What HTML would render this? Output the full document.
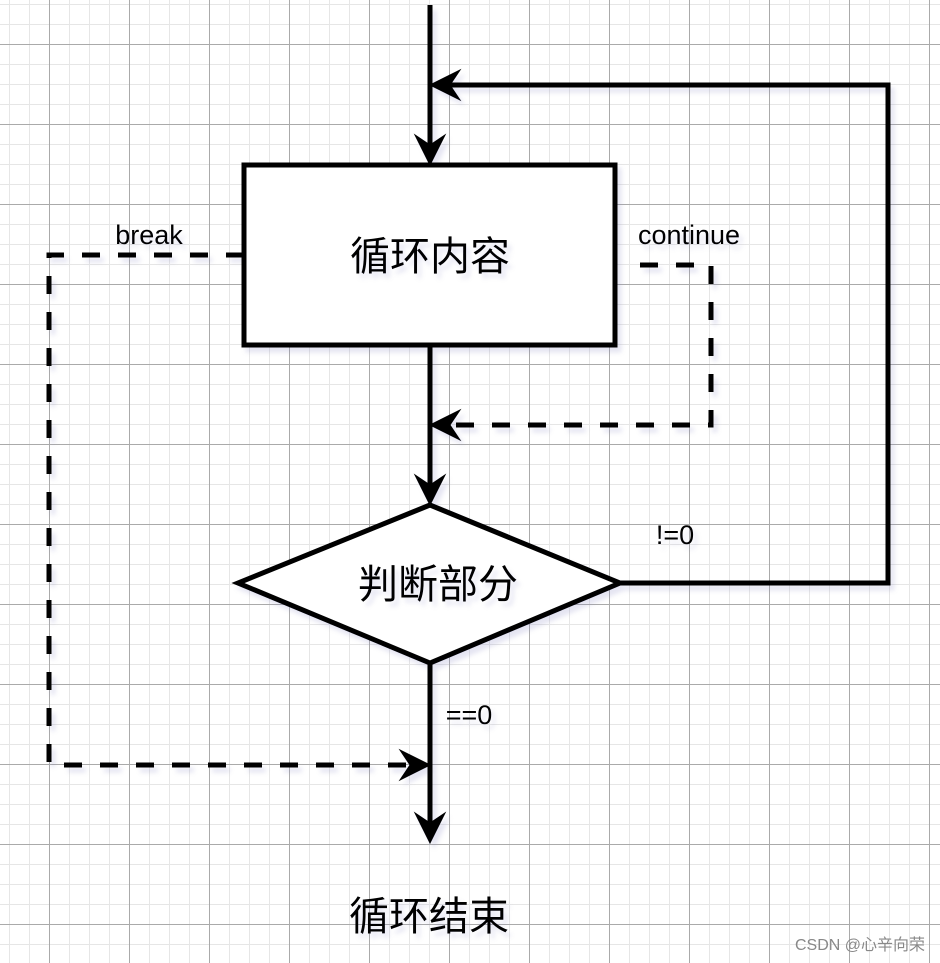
<!DOCTYPE html>
<html><head><meta charset="utf-8"><style>
html,body{margin:0;padding:0;background:#fff;}
svg{display:block;}
text{font-family:"Liberation Sans","Noto Sans CJK SC",sans-serif;fill:#000;}
</style></head><body>
<svg width="940" height="963" viewBox="0 0 940 963" xmlns="http://www.w3.org/2000/svg">
<defs>
<pattern id="minor" width="20" height="20" patternUnits="userSpaceOnUse" x="9" y="4">
<path d="M0 0H20M0 0V20" stroke="#e6e6e6" stroke-width="2" fill="none"/>
</pattern>
<pattern id="major" width="80" height="80" patternUnits="userSpaceOnUse" x="49" y="44">
<path d="M0 0.5H80M0.5 0V80" stroke="#aaaaaa" stroke-width="1" fill="none"/>
</pattern>
<filter id="sh" x="-10%" y="-10%" width="130%" height="130%">
<feGaussianBlur in="SourceAlpha" stdDeviation="2.5"/>
<feOffset dx="4" dy="5"/>
<feComponentTransfer><feFuncA type="linear" slope="0.2"/></feComponentTransfer>
<feColorMatrix type="matrix" values="0 0 0 0 0.2 0 0 0 0 0.2 0 0 0 0 0.5 0 0 0 1 0"/>
<feMerge><feMergeNode/><feMergeNode in="SourceGraphic"/></feMerge>
</filter>
</defs>
<rect width="940" height="963" fill="#fff"/>
<rect width="940" height="963" fill="url(#minor)"/>
<rect width="940" height="963" fill="url(#major)"/>
<g filter="url(#sh)" stroke="#000" stroke-width="5" fill="none">
<path d="M430 5V150"/>
<path d="M430 165L415 135L430 145L445 135Z" fill="#000" stroke-width="1"/>
<rect x="244" y="165" width="371" height="180" fill="#fff"/>
<path d="M430 345V490"/>
<path d="M430 505L415 475L430 485L445 475Z" fill="#000" stroke-width="1"/>
<path d="M430 505L238 583L430 663L620 583Z" fill="#fff"/>
<path d="M620 583H888V85H445"/>
<path d="M430 85L460 70L450 85L460 100Z" fill="#000" stroke-width="1"/>
<path d="M430 663V828"/>
<path d="M430 843L415 813L430 823L445 813Z" fill="#000" stroke-width="1"/>
<path d="M244 255H49V765H415" stroke-dasharray="18 18"/>
<path d="M430 765L400 750L410 765L400 780Z" fill="#000" stroke-width="1"/>
<path d="M640 265H711V425H445" stroke-dasharray="18 18"/>
<path d="M430 425L460 410L450 425L460 440Z" fill="#000" stroke-width="1"/>
</g>
<g filter="url(#sh)">
<text x="430" y="270" font-size="40" text-anchor="middle">循环内容</text>
<text x="438" y="598" font-size="40" text-anchor="middle">判断部分</text>
<text x="429" y="930" font-size="40" text-anchor="middle">循环结束</text>
<text x="149" y="244" font-size="27" text-anchor="middle">break</text>
<text x="689" y="244" font-size="27" text-anchor="middle">continue</text>
<text x="675" y="544" font-size="27" text-anchor="middle">!=0</text>
<text x="469" y="724" font-size="27" text-anchor="middle">==0</text>
</g>
<text x="925" y="950" font-size="16" text-anchor="end" style="fill:#888">CSDN @心辛向荣</text>
</svg>
</body></html>
